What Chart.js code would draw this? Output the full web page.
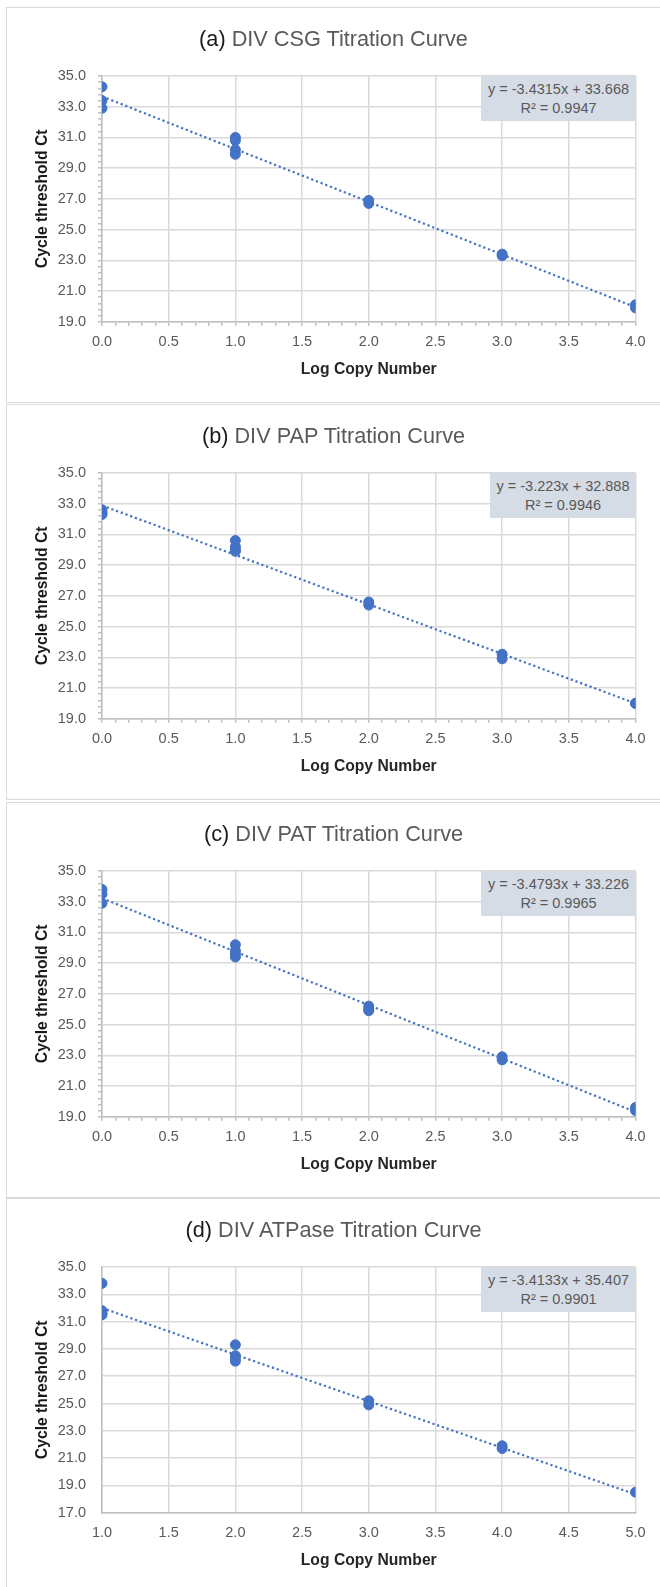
<!DOCTYPE html>
<html>
<head>
<meta charset="utf-8">
<script src="https://cdn.jsdelivr.net/npm/chart.js@4.4.1/dist/chart.umd.min.js"></script>
<style>
  html, body { margin: 0; padding: 0; background: #fff; width: 660px; height: 1587px; overflow: hidden; }
  .panel { position: absolute; left: 6px; width: 660px; height: 396px; box-sizing: border-box; border: 1px solid #d9d9d9; background: #fff; }
  .panel canvas { position: absolute; left: 0; top: 0; }
  .ttl { position: absolute; left: 0; top: 18px; width: 653px; text-align: center; font: 21.7px "Liberation Sans", Arial, sans-serif; line-height: 26px; color: #595959; white-space: nowrap; }
  .ttl span { color: #1a1a1a; }
  .eq { position: absolute; top: 68px; height: 45px; box-sizing: border-box; padding-top: 4px; background: #d6dce5; color: #595959; font: 14.5px "Liberation Sans", Arial, sans-serif; line-height: 19px; text-align: center; white-space: nowrap; }
</style>
</head>
<body>
<div class="panel" style="top:7px"><canvas id="c0" width="658" height="394"></canvas><div class="ttl" id="t0"></div><div class="eq" id="e0" style="left:474px;width:155px"></div></div>
<div class="panel" style="top:404px"><canvas id="c1" width="658" height="394"></canvas><div class="ttl" id="t1"></div><div class="eq" id="e1" style="left:483px;width:146px"></div></div>
<div class="panel" style="top:802px"><canvas id="c2" width="658" height="394"></canvas><div class="ttl" id="t2"></div><div class="eq" id="e2" style="left:474px;width:155px"></div></div>
<div class="panel" style="top:1198px"><canvas id="c3" width="658" height="394"></canvas><div class="ttl" id="t3"></div><div class="eq" id="e3" style="left:474px;width:155px"></div></div>
<script>
// panel (a) DIV CSG
const xA = [0, 0, 0, 1, 1, 1, 1, 2, 2, 3, 3, 4, 4];
const ctA = [34.3, 33.4, 32.9, 31.0, 30.8, 30.2, 29.9, 26.9, 26.7, 23.4, 23.3, 20.1, 19.9];
const trendXA = [0, 4];
const trendYA = [33.668, 19.942];

// panel (b) DIV PAP
const xB = [0, 0, 0, 1, 1, 1, 1, 2, 2, 3, 3, 4, 4];
const ctB = [32.6, 32.4, 32.3, 30.6, 30.2, 30.0, 29.9, 26.6, 26.4, 23.2, 22.9, 20.0, 20.0];
const trendXB = [0, 4];
const trendYB = [32.888, 19.996];

// panel (c) DIV PAT
const xC = [0, 0, 0, 1, 1, 1, 1, 2, 2, 2, 3, 3, 4, 4];
const ctC = [33.8, 33.5, 32.9, 30.2, 29.8, 29.6, 29.4, 26.2, 26.0, 25.9, 22.9, 22.7, 19.6, 19.4];
const trendXC = [0, 4];
const trendYC = [33.226, 19.309];

// panel (d) DIV ATPase
const xD = [1, 1, 1, 1, 2, 2, 2, 2, 3, 3, 4, 4, 5];
const ctD = [33.8, 31.8, 31.6, 31.5, 29.3, 28.5, 28.3, 28.1, 25.2, 24.9, 21.9, 21.7, 18.5];
const trendXD = [1, 5];
const trendYD = [31.994, 18.340];

const panelLetters = ['(a)', '(b)', '(c)', '(d)'];
const panelTitles = ['DIV CSG Titration Curve', 'DIV PAP Titration Curve', 'DIV PAT Titration Curve', 'DIV ATPase Titration Curve'];
const equations = ['y = -3.4315x + 33.668', 'y = -3.223x + 32.888', 'y = -3.4793x + 33.226', 'y = -3.4133x + 35.407'];
const rSquared = ['R² = 0.9947', 'R² = 0.9946', 'R² = 0.9965', 'R² = 0.9901'];
const xTitle = 'Log Copy Number';
const yTitle = 'Cycle threshold Ct';

const BLUE = '#4472C4';
const GRID = '#d9d9d9';
const AXIS = '#bfbfbf';
const FONT = '"Liberation Sans", Arial, sans-serif';

function isMajor(v, min, step) {
  const r = (v - min) / step;
  return Math.abs(r - Math.round(r)) < 1e-6;
}

function makeChart(id, xs, ys, tx, ty, ax) {
  const pts = xs.map((x, i) => ({x: x, y: ys[i]}));
  const trend = tx.map((x, i) => ({x: x, y: ty[i]}));
  return new Chart(document.getElementById(id), {
    type: 'scatter',
    data: {
      datasets: [
        {
          type: 'line',
          data: trend,
          borderColor: BLUE,
          borderWidth: 2.2,
          borderDash: [2.2, 2.8],
          pointRadius: 0,
          fill: false,
          tension: 0
        },
        {
          data: pts,
          backgroundColor: BLUE,
          borderColor: BLUE,
          borderWidth: 1,
          pointRadius: 5,
          pointHoverRadius: 5
        }
      ]
    },
    options: {
      responsive: false,
      animation: false,
      layout: { padding: { top: 68, right: 29.5, left: 0, bottom: 0 } },
      plugins: { legend: { display: false }, tooltip: { enabled: false } },
      scales: {
        x: {
          type: 'linear',
          min: ax.xMin,
          max: ax.xMax,
          afterFit: s => { s.height = 80.3; },
          ticks: {
            stepSize: ax.xMinor,
            autoSkip: false,
            maxRotation: 0,
            padding: 8,
            color: '#595959',
            font: { family: FONT, size: 14.5 },
            callback: v => isMajor(v, ax.xMin, ax.xStep) ? v.toFixed(1) : ''
          },
          grid: {
            color: c => isMajor(c.tick.value, ax.xMin, ax.xStep) ? GRID : 'rgba(0,0,0,0)',
            lineWidth: 1.5,
            tickLength: 4,
            tickColor: ax.minor ? AXIS : 'rgba(0,0,0,0)'
          },
          border: { color: AXIS, width: 1.5 },
          title: {
            display: true,
            text: xTitle,
            color: '#262626',
            font: { family: FONT, size: 15.7, weight: 'bold' },
            padding: { top: 0, bottom: 23 }
          }
        },
        y: {
          type: 'linear',
          min: ax.yMin,
          max: ax.yMax,
          afterFit: s => { s.width = 95; },
          ticks: {
            stepSize: ax.yMinor,
            autoSkip: false,
            padding: 12,
            color: '#595959',
            font: { family: FONT, size: 14.5 },
            callback: v => isMajor(v, ax.yMin, ax.yStep) ? v.toFixed(1) : ''
          },
          grid: {
            color: c => isMajor(c.tick.value, ax.yMin, ax.yStep) ? GRID : 'rgba(0,0,0,0)',
            lineWidth: 1.5,
            tickLength: 4,
            tickColor: ax.minor ? AXIS : 'rgba(0,0,0,0)'
          },
          border: { color: AXIS, width: 1.5 },
          title: {
            display: true,
            text: yTitle,
            color: '#1a1a1a',
            font: { family: FONT, size: 15.7, weight: 'bold' },
            padding: { top: 26, bottom: 0 }
          }
        }
      }
    }
  });
}

const axesStd = { xMin: 0, xMax: 4, xStep: 0.5, xMinor: 0.1, yMin: 19, yMax: 35, yStep: 2, yMinor: 0.4, minor: true };
const axesD = { xMin: 1, xMax: 5, xStep: 0.5, xMinor: 0.5, yMin: 17, yMax: 35, yStep: 2, yMinor: 2, minor: false };

for (let i = 0; i < 4; i++) {
  document.getElementById('t' + i).innerHTML = '<span>' + panelLetters[i] + '</span> ' + panelTitles[i];
  document.getElementById('e' + i).innerHTML = equations[i] + '<br>' + rSquared[i];
}

makeChart('c0', xA, ctA, trendXA, trendYA, axesStd);
makeChart('c1', xB, ctB, trendXB, trendYB, axesStd);
makeChart('c2', xC, ctC, trendXC, trendYC, axesStd);
makeChart('c3', xD, ctD, trendXD, trendYD, axesD);
</script>
</body>
</html>
